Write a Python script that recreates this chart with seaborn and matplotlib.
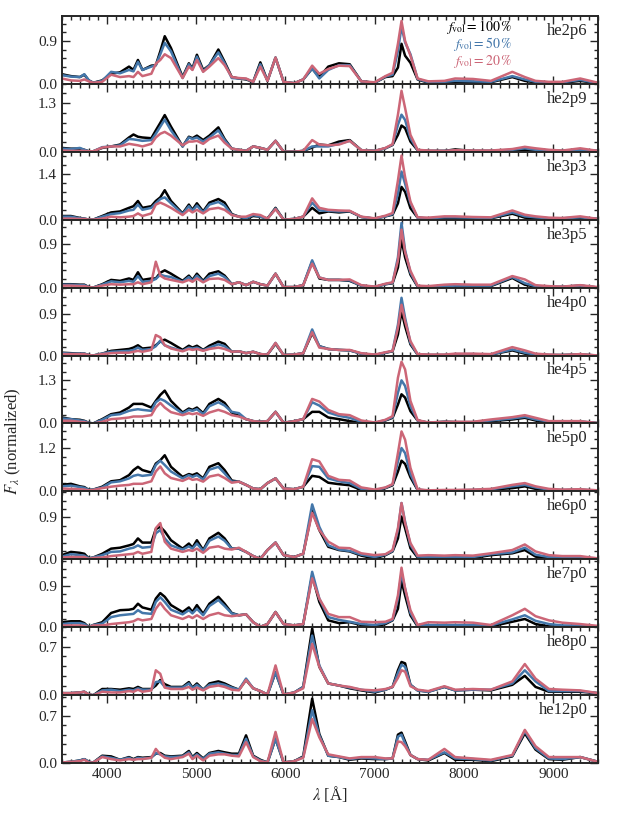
import pandas as pd
import matplotlib
matplotlib.use('Agg')
import matplotlib.pyplot as plt
import seaborn as sns
from matplotlib.ticker import MultipleLocator

# wavelength grid (Angstrom) the spectra were read at
WAVE = [3500, 3600, 3700, 3750, 3800, 3850, 3950, 4050, 4150, 4250, 4300, 4350, 4400, 4500, 4550, 4600,
        4650, 4720, 4850, 4920, 4960, 5010, 5080, 5150, 5250, 5320, 5400, 5480, 5560, 5640, 5720, 5800,
        5890, 5980, 6100, 6200, 6300, 6380, 6480, 6600, 6720, 6850, 7000, 7120, 7200, 7260, 7300, 7340,
        7400, 7480, 7600, 7780, 7900, 8100, 8300, 8540, 8680, 8800, 8950, 9100, 9300, 9500]

MODELS = ['he2p6', 'he2p9', 'he3p3', 'he3p5', 'he4p0', 'he4p5', 'he5p0', 'he6p0', 'he7p0', 'he8p0', 'he12p0']
FVOL = ['100', '50', '20']
COLORS = ['black', '#4477AA', '#CC6677']

# y range and labelled tick of each panel
YMAX = [1.43, 1.82, 2.08, 1.42, 1.46, 2.05, 1.88, 1.46, 1.47, 0.98, 1.00]
YTICK = [0.9, 1.3, 1.4, 0.9, 0.9, 1.3, 1.2, 0.9, 0.9, 0.7, 0.7]

he2p6_f100 = [.20, .16, .14, .19, .07, .02, .07, .21, .24, .36, .29, .50, .29, .38, .39, .68, 1.00, .75, .14, .43, .32, .61, .29, .39, .72, .46, .14, .11, .09, .04, .45, .06, .55, .04, .01, .09, .32, .14, .36, .43, .41, .05, .02, .14, .16, .34, .84, .59, .44, .09, .02, .03, .04, .03, .03, .14, .06, .03, .02, .02, .06, .01]
he2p6_f50 = [.18, .15, .14, .20, .07, .02, .06, .25, .22, .29, .26, .46, .29, .36, .39, .62, .86, .68, .12, .41, .30, .57, .26, .39, .66, .43, .12, .11, .10, .04, .41, .06, .55, .04, .01, .09, .32, .11, .29, .39, .39, .05, .02, .15, .19, .69, 1.20, .87, .62, .10, .03, .04, .06, .05, .04, .16, .09, .04, .03, .03, .08, .01]
he2p6_f20 = [.11, .07, .06, .09, .05, .02, .04, .19, .14, .16, .14, .25, .16, .21, .42, .50, .62, .54, .12, .36, .29, .50, .25, .36, .54, .39, .14, .12, .11, .04, .36, .06, .55, .04, .01, .09, .38, .21, .31, .38, .37, .05, .03, .16, .23, .84, 1.32, .90, .59, .11, .05, .06, .11, .10, .06, .25, .14, .06, .04, .04, .11, .02]

he2p9_f100 = [.10, .08, .08, .05, .01, .01, .10, .14, .19, .38, .46, .40, .38, .36, .57, .77, .98, .67, .14, .40, .36, .43, .31, .43, .65, .34, .08, .05, .02, .14, .10, .05, .29, .00, .00, .02, .11, .19, .17, .27, .31, .04, .02, .09, .18, .45, .70, .63, .27, .04, .02, .02, .06, .02, .02, .03, .05, .03, .02, .02, .03, .02]
he2p9_f50 = [.08, .07, .10, .05, .01, .01, .12, .14, .17, .34, .33, .31, .29, .31, .48, .67, .86, .57, .14, .38, .34, .38, .27, .38, .57, .31, .08, .05, .02, .14, .10, .05, .29, .00, .00, .02, .14, .14, .14, .21, .29, .04, .02, .09, .19, .72, .99, .85, .36, .04, .02, .02, .04, .02, .02, .05, .09, .05, .03, .02, .05, .02]
he2p9_f20 = [.03, .02, .02, .02, .01, .01, .11, .14, .14, .21, .19, .17, .14, .21, .38, .48, .53, .43, .17, .27, .27, .29, .21, .34, .43, .24, .08, .05, .02, .14, .10, .05, .29, .00, .00, .02, .31, .19, .17, .19, .29, .04, .02, .10, .20, .99, 1.63, 1.17, .45, .05, .03, .02, .04, .03, .03, .07, .13, .09, .05, .03, .09, .02]

he3p3_f100 = [.11, .11, .05, .03, .00, .00, .11, .22, .25, .36, .41, .57, .36, .41, .57, .68, .90, .57, .19, .46, .30, .50, .25, .52, .63, .52, .17, .09, .03, .11, .09, .03, .36, .00, .02, .09, .36, .19, .25, .22, .25, .08, .03, .10, .15, .50, 1.00, .85, .35, .06, .03, .05, .05, .04, .04, .18, .06, .04, .03, .03, .05, .02]
he3p3_f50 = [.09, .09, .04, .03, .00, .00, .09, .17, .20, .28, .30, .46, .30, .36, .50, .63, .68, .50, .17, .41, .27, .43, .22, .46, .54, .43, .15, .09, .04, .14, .09, .03, .34, .00, .02, .09, .52, .28, .27, .25, .26, .08, .03, .10, .17, .80, 1.47, 1.10, .50, .06, .04, .07, .07, .06, .05, .22, .10, .07, .04, .04, .07, .02]
he3p3_f20 = [.03, .03, .02, .02, .00, .00, .03, .09, .07, .09, .11, .19, .11, .19, .46, .52, .46, .36, .14, .30, .22, .30, .19, .32, .36, .30, .14, .09, .09, .17, .14, .03, .32, .00, .02, .09, .65, .36, .30, .28, .27, .09, .04, .12, .20, 1.20, 1.96, 1.30, .55, .07, .06, .10, .10, .08, .07, .28, .15, .10, .06, .05, .10, .02]

he3p5_f100 = [.07, .07, .06, .06, .01, .00, .07, .16, .14, .19, .16, .32, .16, .19, .19, .31, .36, .29, .14, .25, .16, .29, .14, .29, .34, .25, .07, .11, .05, .12, .07, .04, .29, .01, .01, .05, .54, .19, .16, .16, .14, .04, .01, .07, .09, .42, 1.00, .63, .27, .02, .01, .02, .03, .03, .03, .20, .06, .02, .01, .01, .04, .00]
he3p5_f50 = [.06, .06, .05, .05, .01, .00, .06, .13, .11, .14, .12, .24, .12, .14, .18, .27, .24, .22, .12, .22, .14, .25, .12, .24, .29, .22, .07, .11, .05, .12, .07, .04, .29, .01, .01, .05, .57, .21, .16, .16, .15, .04, .01, .07, .10, .63, 1.35, .78, .31, .03, .02, .03, .04, .04, .04, .22, .09, .03, .02, .02, .04, .00]
he3p5_f20 = [.04, .04, .03, .03, .01, .00, .04, .07, .06, .07, .07, .11, .07, .11, .54, .25, .19, .16, .11, .16, .12, .19, .11, .18, .19, .16, .07, .11, .05, .12, .07, .04, .29, .01, .01, .05, .50, .21, .16, .16, .17, .05, .02, .08, .11, .56, 1.21, .74, .35, .04, .03, .06, .07, .06, .06, .24, .17, .05, .03, .02, .05, .01]

he4p0_f100 = [.06, .05, .04, .04, .01, .00, .04, .10, .12, .14, .17, .22, .15, .17, .22, .30, .34, .27, .12, .21, .17, .21, .12, .21, .30, .25, .08, .09, .05, .08, .03, .02, .25, .01, .02, .05, .48, .20, .14, .12, .11, .04, .01, .06, .09, .45, .95, .63, .24, .02, .01, .01, .02, .02, .02, .11, .04, .02, .01, .01, .02, .00]
he4p0_f50 = [.05, .04, .04, .04, .01, .00, .04, .08, .09, .10, .12, .17, .12, .14, .20, .32, .22, .17, .10, .17, .15, .17, .11, .17, .24, .20, .08, .09, .05, .08, .03, .02, .27, .01, .02, .05, .56, .20, .14, .12, .11, .04, .01, .06, .10, .66, 1.24, .81, .27, .02, .01, .01, .03, .03, .02, .13, .06, .02, .01, .01, .02, .00]
he4p0_f20 = [.03, .03, .03, .03, .01, .00, .03, .05, .06, .06, .08, .10, .08, .12, .44, .39, .22, .15, .09, .14, .12, .14, .10, .14, .17, .14, .08, .09, .05, .08, .03, .02, .27, .01, .02, .05, .50, .17, .14, .12, .12, .05, .02, .07, .10, .59, 1.09, .74, .31, .03, .02, .02, .04, .04, .03, .18, .11, .04, .02, .01, .03, .00]

he4p5_f100 = [.18, .13, .11, .08, .02, .00, .13, .28, .33, .48, .59, .59, .59, .48, .68, .86, .99, .68, .33, .45, .41, .48, .31, .59, .74, .62, .33, .23, .13, .07, .05, .07, .35, .02, .07, .13, .35, .35, .18, .13, .07, .02, .01, .09, .17, .57, .88, .78, .37, .09, .02, .05, .04, .03, .07, .12, .17, .09, .05, .03, .05, .01]
he4p5_f50 = [.15, .13, .09, .07, .02, .00, .11, .25, .28, .38, .41, .43, .41, .38, .64, .74, .68, .54, .30, .41, .38, .43, .28, .52, .64, .54, .35, .31, .13, .07, .05, .07, .35, .02, .07, .13, .64, .54, .33, .23, .17, .05, .02, .10, .19, .93, 1.30, 1.13, .52, .09, .02, .05, .04, .04, .09, .15, .20, .12, .06, .04, .06, .01]
he4p5_f20 = [.08, .08, .05, .04, .01, .00, .05, .13, .15, .18, .21, .21, .21, .25, .48, .62, .48, .34, .25, .31, .28, .31, .23, .33, .41, .35, .25, .21, .13, .07, .05, .07, .35, .02, .07, .13, .74, .66, .41, .28, .25, .09, .03, .11, .22, 1.38, 1.86, 1.63, .68, .10, .03, .05, .05, .05, .12, .19, .25, .17, .07, .07, .07, .01]

he5p0_f100 = [.18, .21, .14, .12, .04, .05, .13, .28, .31, .45, .59, .68, .59, .52, .77, .86, 1.00, .68, .40, .48, .45, .50, .36, .68, .78, .59, .30, .27, .18, .08, .06, .23, .36, .08, .06, .13, .43, .40, .24, .20, .17, .04, .02, .09, .17, .55, .85, .76, .39, .04, .02, .02, .02, .03, .05, .09, .14, .07, .04, .03, .04, .02]
he5p0_f50 = [.14, .16, .12, .10, .04, .05, .11, .25, .28, .36, .43, .46, .43, .46, .73, .85, .73, .55, .36, .45, .40, .45, .33, .60, .68, .50, .27, .27, .18, .08, .06, .23, .36, .08, .06, .13, .70, .68, .36, .28, .23, .07, .03, .10, .19, .83, 1.20, 1.06, .48, .05, .02, .03, .03, .04, .06, .14, .18, .11, .05, .04, .05, .02]
he5p0_f20 = [.08, .07, .06, .05, .03, .04, .09, .13, .16, .18, .21, .21, .21, .28, .55, .69, .50, .37, .29, .37, .32, .34, .27, .41, .46, .37, .24, .27, .18, .08, .06, .23, .36, .08, .06, .13, .89, .83, .43, .32, .30, .11, .05, .11, .20, 1.06, 1.66, 1.43, .65, .06, .03, .04, .04, .05, .07, .18, .23, .14, .07, .05, .06, .03]

he6p0_f100 = [.09, .16, .14, .12, .02, .04, .12, .23, .25, .30, .33, .45, .36, .36, .65, .70, .60, .41, .23, .34, .25, .41, .20, .45, .57, .45, .23, .23, .16, .07, .01, .20, .36, .09, .05, .12, 1.05, .63, .27, .20, .17, .08, .02, .09, .17, .45, .92, .67, .24, .04, .02, .02, .03, .03, .09, .13, .20, .06, .02, .02, .02, .01]
he6p0_f50 = [.06, .11, .09, .08, .02, .04, .09, .16, .17, .23, .25, .30, .25, .27, .56, .63, .45, .30, .21, .28, .23, .34, .18, .40, .49, .40, .23, .23, .16, .07, .01, .20, .36, .09, .05, .12, 1.18, .70, .30, .21, .18, .10, .05, .10, .18, .63, 1.21, .81, .31, .06, .05, .05, .05, .05, .11, .15, .25, .10, .05, .04, .04, .01]
he6p0_f20 = [.04, .05, .05, .05, .01, .03, .04, .07, .09, .11, .12, .16, .12, .16, .67, .78, .38, .23, .16, .20, .18, .23, .14, .25, .28, .23, .21, .25, .16, .07, .01, .20, .36, .09, .05, .12, 1.00, .63, .38, .25, .24, .13, .09, .11, .20, .67, 1.21, .78, .35, .08, .09, .08, .09, .08, .13, .20, .32, .17, .09, .07, .07, .02]

he7p0_f100 = [.11, .13, .13, .09, .00, .05, .11, .31, .37, .38, .40, .51, .43, .38, .62, .74, .66, .48, .33, .43, .33, .48, .29, .51, .66, .51, .31, .26, .28, .11, .01, .07, .33, .07, .04, .07, 1.12, .55, .15, .09, .11, .05, .02, .07, .15, .40, 1.00, .69, .26, .02, .02, .02, .02, .03, .02, .12, .18, .07, .02, .01, .01, .01]
he7p0_f50 = [.07, .09, .09, .07, .00, .05, .08, .22, .26, .28, .29, .37, .31, .29, .55, .65, .55, .38, .28, .37, .30, .40, .26, .46, .59, .46, .30, .26, .28, .11, .01, .07, .33, .07, .04, .07, 1.20, .62, .22, .16, .12, .07, .05, .09, .16, .62, 1.17, .84, .31, .04, .05, .05, .05, .05, .04, .17, .26, .14, .07, .04, .04, .01]
he7p0_f20 = [.04, .04, .04, .03, .00, .04, .04, .07, .09, .11, .13, .18, .15, .18, .40, .53, .40, .26, .18, .24, .20, .26, .18, .26, .31, .26, .24, .26, .28, .11, .01, .07, .33, .07, .04, .07, 1.06, .62, .29, .22, .22, .12, .11, .12, .18, .69, 1.29, .84, .37, .05, .11, .10, .11, .10, .05, .26, .40, .24, .15, .10, .07, .03]

he8p0_f100 = [.03, .03, .04, .05, .01, .00, .09, .09, .08, .10, .09, .12, .09, .09, .14, .22, .16, .12, .12, .19, .11, .17, .08, .17, .20, .17, .12, .08, .22, .10, .06, .01, .33, .01, .04, .12, .96, .41, .17, .14, .10, .07, .04, .08, .12, .36, .48, .46, .15, .07, .05, .12, .07, .08, .07, .15, .28, .12, .05, .05, .05, .03]
he8p0_f50 = [.03, .03, .04, .05, .01, .00, .07, .08, .06, .08, .07, .10, .08, .08, .19, .20, .12, .11, .11, .17, .10, .15, .08, .15, .17, .15, .11, .08, .24, .10, .06, .01, .33, .01, .04, .12, .86, .43, .17, .14, .11, .08, .05, .08, .12, .32, .44, .41, .15, .07, .05, .12, .07, .08, .08, .17, .36, .20, .06, .06, .06, .03]
he8p0_f20 = [.03, .03, .04, .05, .01, .00, .05, .04, .04, .06, .05, .08, .05, .07, .36, .31, .11, .09, .09, .12, .08, .11, .07, .12, .14, .12, .08, .07, .22, .10, .06, .01, .43, .01, .04, .10, .74, .41, .17, .14, .12, .08, .07, .09, .12, .25, .36, .34, .13, .08, .06, .13, .08, .09, .08, .20, .45, .24, .09, .08, .07, .03]

he12p0_f100 = [.01, .02, .04, .06, .02, .01, .11, .10, .05, .09, .06, .09, .08, .09, .14, .15, .11, .10, .11, .18, .09, .15, .07, .15, .18, .16, .14, .14, .41, .11, .05, .01, .36, .01, .03, .10, .95, .43, .11, .09, .05, .07, .06, .06, .07, .42, .45, .32, .12, .06, .04, .15, .05, .05, .03, .10, .44, .20, .06, .05, .09, .02]
he12p0_f50 = [.01, .02, .04, .06, .02, .01, .10, .08, .05, .08, .05, .08, .07, .08, .15, .13, .10, .09, .10, .16, .08, .13, .06, .14, .16, .14, .12, .12, .36, .10, .04, .01, .36, .01, .03, .09, .78, .41, .11, .09, .06, .08, .07, .06, .07, .39, .42, .29, .12, .06, .05, .16, .07, .06, .04, .11, .47, .22, .07, .06, .09, .02]
he12p0_f20 = [.01, .02, .03, .05, .01, .01, .09, .06, .04, .06, .05, .06, .06, .08, .21, .13, .08, .06, .09, .14, .06, .11, .04, .11, .13, .13, .11, .10, .31, .09, .03, .01, .46, .01, .03, .08, .65, .38, .13, .10, .07, .09, .09, .07, .07, .32, .31, .25, .12, .06, .05, .21, .09, .07, .05, .12, .49, .25, .09, .09, .09, .02]

SPECTRA = {
    'he2p6': [he2p6_f100, he2p6_f50, he2p6_f20],
    'he2p9': [he2p9_f100, he2p9_f50, he2p9_f20],
    'he3p3': [he3p3_f100, he3p3_f50, he3p3_f20],
    'he3p5': [he3p5_f100, he3p5_f50, he3p5_f20],
    'he4p0': [he4p0_f100, he4p0_f50, he4p0_f20],
    'he4p5': [he4p5_f100, he4p5_f50, he4p5_f20],
    'he5p0': [he5p0_f100, he5p0_f50, he5p0_f20],
    'he6p0': [he6p0_f100, he6p0_f50, he6p0_f20],
    'he7p0': [he7p0_f100, he7p0_f50, he7p0_f20],
    'he8p0': [he8p0_f100, he8p0_f50, he8p0_f20],
    'he12p0': [he12p0_f100, he12p0_f50, he12p0_f20],
}

sns.set_style('ticks')
plt.rcParams['font.family'] = ['Liberation Serif', 'DejaVu Serif']
plt.rcParams['mathtext.fontset'] = 'stix'

fig, axes = plt.subplots(len(MODELS), 1, figsize=(6.23, 8.30), dpi=100, sharex=True)
fig.subplots_adjust(left=0.0995, right=0.960, top=0.981, bottom=0.0805, hspace=0)

for i, (ax, name) in enumerate(zip(axes, MODELS)):
    frames = []
    for fv, flux in zip(FVOL, SPECTRA[name]):
        frames.append(pd.DataFrame({'wave': WAVE, 'flux': flux, 'fvol': fv}))
    df = pd.concat(frames, ignore_index=True)
    sns.lineplot(data=df, x='wave', y='flux', hue='fvol', hue_order=FVOL, palette=COLORS,
                 linewidth=1.8, legend=False, estimator=None, ax=ax)

    ax.set_xlim(3500, 9500)
    ax.set_ylim(0, YMAX[i])
    ax.set_yticks([0, YTICK[i]])
    ax.set_yticklabels(['0.0', f'{YTICK[i]:.1f}'])
    ax.yaxis.set_minor_locator(MultipleLocator(YTICK[i] / 5))
    ax.xaxis.set_major_locator(MultipleLocator(1000))
    ax.xaxis.set_minor_locator(MultipleLocator(100))
    ax.tick_params(which='both', direction='in', top=True, right=True, width=1, labelsize=11)
    ax.tick_params(which='major', length=6)
    ax.tick_params(which='minor', length=3)
    for sp in ax.spines.values():
        sp.set_linewidth(1.4)
    ax.set_xlabel('')
    ax.set_ylabel('')
    ax.text(0.98, 0.78, name, transform=ax.transAxes, ha='right', va='center', fontsize=12)

# legend written as coloured text in the top panel
for txt, col, y in zip(FVOL, COLORS, [0.83, 0.58, 0.33]):
    axes[0].text(0.841, y, r'$f_{\rm vol} = ' + txt + r'\,\%$', color=col, transform=axes[0].transAxes,
                 ha='right', va='center', fontsize=10)

axes[-1].set_xticks([4000, 5000, 6000, 7000, 8000, 9000])
axes[-1].set_xlabel(r'$\lambda$ [Å]', fontsize=12, labelpad=2)
fig.text(0.022, 0.469, r'$F_\lambda$ (normalized)', rotation=90, ha='center', va='center', fontsize=12)

plt.savefig('out.png', dpi=100)
